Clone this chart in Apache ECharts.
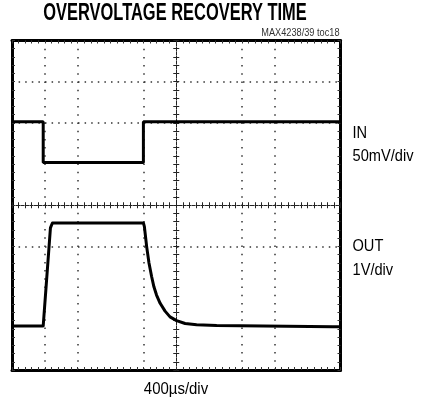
<!DOCTYPE html>
<html>
<head>
<meta charset="utf-8">
<script src="https://cdn.jsdelivr.net/npm/echarts@6/dist/echarts.min.js"></script>
<style>
  html, body { margin: 0; padding: 0; background: #fff; }
  #chart { width: 432px; height: 403px; }
</style>
</head>
<body>
<div id="chart"></div>
<script>
// scope screen: 10 horizontal divisions, 8 vertical divisions
const timeDivs = 10
const voltDivs = 8

// IN trace (50mV/div), positions in divisions
const inTime = [0, 0.95, 0.95, 4.0, 4.0, 10]
const inLevel = [6.03, 6.03, 5.04, 5.04, 6.03, 6.03]

// OUT trace (1V/div)
const outTime = [0, 0.95, 1.17, 1.23, 4.0, 4.03, 4.1, 4.17, 4.25, 4.32, 4.4, 4.51, 4.66, 4.81, 5.01, 5.27, 5.62, 6.23, 9.77, 10]
const outLevel = [1.07, 1.07, 3.45, 3.57, 3.57, 3.48, 2.99, 2.6, 2.27, 2.02, 1.82, 1.62, 1.43, 1.29, 1.2, 1.13, 1.1, 1.08, 1.05, 1.05]

const titleText = 'OVERVOLTAGE RECOVERY TIME'
const tocText = 'MAX4238/39 toc18'
const inLabel = ['IN', '50mV/div']
const outLabel = ['OUT', '1V/div']
const timeLabel = '400µs/div'

const fontName = '"Liberation Sans", Arial, sans-serif'
const dotColor = '#333'

//网格线：部分线条在原图中看不到
const vGridColors = ['none', dotColor, dotColor, 'transparent', dotColor, 'none', 'transparent', dotColor, dotColor, 'transparent', 'none']
const hGridColors = ['none', 'none', 'transparent', dotColor, 'none', 'none', dotColor, dotColor, 'none']

function pairs(xs, ys) {
  return xs.map((x, i) => [x, ys[i]])
}

// frame axis (border with small inner tick dots)
function frameAxis(pos, extra) {
  return Object.assign({
    type: 'value',
    position: pos,
    min: 0,
    axisLabel: { show: false },
    axisLine: { show: true, onZero: false, lineStyle: { color: '#000', width: 3 } },
    axisTick: { show: true, inside: true, length: 3, lineStyle: { color: dotColor } },
    minorTick: { show: true, splitNumber: 5, length: 3, lineStyle: { color: dotColor } },
    splitLine: { show: false }
  }, extra)
}

// center cross axis, ticks on one side each
function centerAxis(pos, max, off, inside) {
  return {
    type: 'value',
    position: pos,
    offset: off,
    min: 0,
    max: max,
    interval: 1,
    axisLabel: { show: false },
    axisLine: { show: true, onZero: false, lineStyle: { color: '#222', width: 1, type: [3, 1.5] } },
    axisTick: { show: true, inside: inside, length: 3, lineStyle: { color: '#222' } },
    minorTick: { show: true, splitNumber: 5, length: 3, lineStyle: { color: '#222' } },
    splitLine: { show: false }
  }
}

// narrow text: regular font squeezed horizontally
function label(text, x, y, size, align, squeeze, weight, color) {
  return {
    type: 'text',
    x: x,
    y: y,
    scaleX: squeeze,
    z: 10,
    style: {
      text: text,
      font: (weight || 'normal') + ' ' + size + 'px ' + fontName,
      textAlign: align,
      textVerticalAlign: 'middle',
      fill: color || '#000'
    }
  }
}

const gridBox = { left: 12, top: 40.5, width: 328.5, height: 329.5 }

let mycharts = echarts.init(document.getElementById('chart'))
mycharts.setOption({
  animation: false,
  backgroundColor: '#fff',
  graphic: [
    label(titleText, 175, 13.5, 23, 'center', 0.715, 'bold'),
    label(tocText, 339.5, 33, 10.7, 'right', 0.86, 'normal', '#333'),
    label(inLabel[0], 352.5, 133.5, 17, 'left', 0.86),
    label(inLabel[1], 352.5, 156.5, 17, 'left', 0.86),
    label(outLabel[0], 352.5, 246.5, 17, 'left', 0.86),
    label(outLabel[1], 352.5, 270, 17, 'left', 0.86),
    label(timeLabel, 176, 389, 17, 'center', 0.88)
  ],
  grid: Object.assign({ show: false }, gridBox),
  xAxis: [
    frameAxis('bottom', {
      max: timeDivs, interval: 1,
      splitLine: { show: true, lineStyle: { color: vGridColors, width: 1.5, type: [1.5, 6.7] } }
    }),
    frameAxis('top', { max: timeDivs, interval: 1 }),
    centerAxis('bottom', timeDivs, -164.75, true),
    centerAxis('bottom', timeDivs, -164.75, false)
  ],
  yAxis: [
    frameAxis('left', {
      max: voltDivs, interval: 1,
      splitLine: { show: true, lineStyle: { color: hGridColors, width: 1.5, type: [1.5, 5.1] } }
    }),
    frameAxis('right', { max: voltDivs, interval: 1 }),
    centerAxis('left', voltDivs, -164.25, true),
    centerAxis('left', voltDivs, -164.25, false)
  ],
  series: [
    {
      name: 'IN',
      type: 'line',
      xAxisIndex: 0,
      yAxisIndex: 0,
      data: pairs(inTime, inLevel),
      showSymbol: false,
      lineStyle: { color: '#000', width: 3 },
      z: 5
    },
    {
      name: 'OUT',
      type: 'line',
      xAxisIndex: 0,
      yAxisIndex: 0,
      data: pairs(outTime, outLevel),
      showSymbol: false,
      lineStyle: { color: '#000', width: 3, join: 'round' },
      z: 5
    }
  ]
})
</script>
</body>
</html>
